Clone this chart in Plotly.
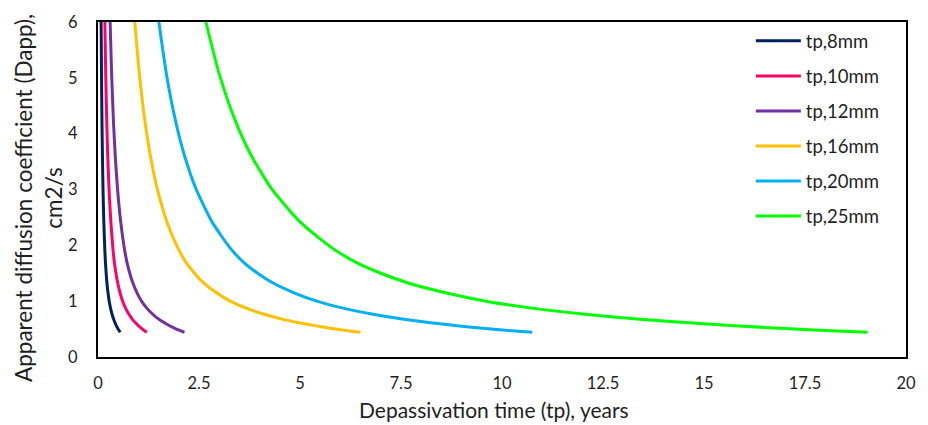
import plotly.graph_objects as go

# Series labels
names = ["tp,8mm", "tp,10mm", "tp,12mm", "tp,16mm", "tp,20mm", "tp,25mm"]
colors = ["#002060", "#FF0066", "#7030A0", "#FFC000", "#00B0F0", "#00FF00"]

# Dapp (cm2/s) levels
D_levels = [6.0, 5.07, 4.23, 3.60, 3.01, 2.42, 1.95, 1.69, 1.50, 1.32, 1.15,
            1.00, 0.88, 0.77, 0.67, 0.595, 0.53, 0.475, 0.443]

# Depassivation time (years) read at each of those levels
tp_8mm = [0.077, 0.087, 0.098, 0.110, 0.124, 0.144, 0.167, 0.185, 0.202, 0.222,
          0.248, 0.277, 0.309, 0.346, 0.390, 0.433, 0.476, 0.520, 0.55]
tp_10mm = [0.170, 0.191, 0.216, 0.241, 0.273, 0.318, 0.368, 0.406, 0.445, 0.489,
           0.546, 0.610, 0.679, 0.762, 0.857, 0.953, 1.048, 1.143, 1.21]
tp_12mm = [0.300, 0.337, 0.382, 0.427, 0.483, 0.562, 0.651, 0.719, 0.786, 0.865,
           0.966, 1.078, 1.202, 1.348, 1.516, 1.685, 1.853, 2.021, 2.14]
tp_16mm = [0.911, 1.024, 1.160, 1.297, 1.467, 1.706, 1.979, 2.184, 2.388, 2.627,
           2.934, 3.276, 3.651, 4.094, 4.606, 5.118, 5.630, 6.142, 6.50]
tp_20mm = [1.507, 1.693, 1.919, 2.144, 2.426, 2.822, 3.273, 3.612, 3.950, 4.345,
           4.853, 5.417, 6.038, 6.772, 7.618, 8.465, 9.311, 10.157, 10.75]
tp_25mm = [2.67, 3.0, 3.4, 3.8, 4.3, 5.0, 5.8, 6.4, 7.0, 7.7, 8.6, 9.6, 10.7,
           12.0, 13.5, 15.0, 16.5, 18.0, 19.05]

x_ticks = [0, 2.5, 5, 7.5, 10, 12.5, 15, 17.5, 20]
x_tick_labels = ["0", "2.5", "5", "7.5", "10", "12.5", "15", "17.5", "20"]
y_ticks = [0, 1, 2, 3, 4, 5, 6]

x_title = "Depassivation time (tp), years"
y_title = "Apparent diffusion coefficient (Dapp),<br>cm2/s"

series_t = [tp_8mm, tp_10mm, tp_12mm, tp_16mm, tp_20mm, tp_25mm]

FONT = "Lato"
TXT = "#1f1f1f"
fig = go.Figure()
for i, (xs, name, color) in enumerate(zip(series_t, names, colors)):
    fig.add_trace(go.Scatter(
        x=xs, y=D_levels, name=name, mode="lines",
        line=dict(color=color, width=3, shape="spline", smoothing=0.6),
        legendgroup=f"g{i}",
    ))

fig.update_layout(
    width=928, height=425,
    margin=dict(l=98, r=20, t=18, b=68),
    paper_bgcolor="white", plot_bgcolor="white",
    font=dict(family=FONT, size=16, color=TXT),
    showlegend=True,
    legend=dict(
        x=0.808, y=0.999, xanchor="left", yanchor="top",
        bgcolor="rgba(0,0,0,0)", tracegroupgap=8,
        font=dict(family=FONT, size=18.5, color=TXT),
        itemwidth=45,
    ),
    xaxis=dict(
        range=[0, 20], tickvals=x_ticks, ticktext=x_tick_labels,
        showgrid=False, zeroline=False, showline=True, linecolor="black",
        linewidth=2, mirror=True, ticks="", ticklabelstandoff=10,
        tickfont=dict(family=FONT, size=16.5, color=TXT),
    ),
    yaxis=dict(
        range=[0, 6], tickvals=y_ticks,
        showgrid=False, zeroline=False, showline=True, linecolor="black",
        linewidth=2, mirror=True, ticks="outside", ticklen=15,
        tickcolor="rgba(0,0,0,0)",
        tickfont=dict(family=FONT, size=16.5, color=TXT),
    ),
    annotations=[
        dict(text=x_title, xref="paper", yref="paper", x=0.4895, y=-0.1563,
             xanchor="center", yanchor="middle", showarrow=False,
             font=dict(family=FONT, size=21, color=TXT)),
        dict(text=y_title, xref="paper", yref="paper", x=-0.0741, y=0.475,
             xanchor="center", yanchor="middle", showarrow=False, textangle=-90,
             font=dict(family=FONT, size=22.5, color=TXT)),
    ],
)

fig.write_html("out.html")
